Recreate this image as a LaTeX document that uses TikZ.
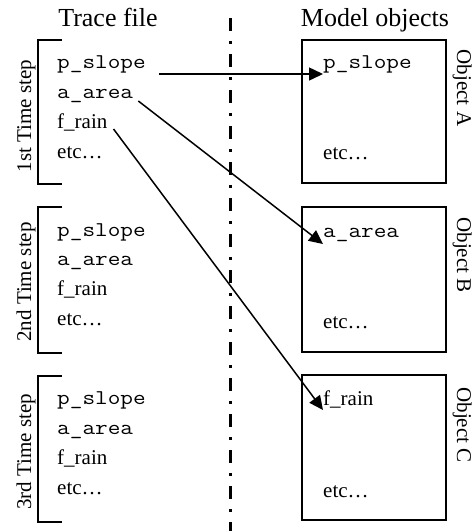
\documentclass[tikz,border=0pt]{standalone}
\usepackage{fontspec}
\setmainfont{Liberation Serif}
\setmonofont{Latin Modern Mono}[FakeStretch=1.17]
\usetikzlibrary{arrows.meta}
\begin{document}
\begin{tikzpicture}[x=1pt,y=-1pt,
  body/.style={font=\fontsize{21}{25}\selectfont, inner sep=0pt, anchor=base west},
  code/.style={font=\fontsize{21}{25}\selectfont\ttfamily, inner sep=0pt, anchor=base west},
  title/.style={font=\fontsize{26}{30}\selectfont, inner sep=0pt, anchor=base},
  sidelab/.style={font=\fontsize{21}{25}\selectfont, inner sep=0pt, anchor=base, rotate=90},
  objlab/.style={font=\fontsize{21}{25}\selectfont, inner sep=0pt, anchor=base, rotate=-90},
  objbox/.style={draw, line width=2pt, minimum width=144pt, minimum height=144pt, inner sep=0pt},
  bracket/.style={line width=2pt},
  divider/.style={line width=3pt, dash pattern=on 13pt off 10pt on 3pt off 10pt},
  arr/.style={line width=1.5pt, -{Triangle[length=14pt,width=13pt]}}
]
\useasboundingbox (0,0) rectangle (476,531);

% titles
\node[title] (ttrace) at (108,26) {Trace file};
\node[title] (tmodel) at (375,26) {Model objects};

% divider
\draw[divider] (230,18) -- (230,531);

% brackets
\draw[bracket] (62,40) -- (38,40) -- (38,184) -- (62,184);
\draw[bracket] (62,207) -- (38,207) -- (38,353) -- (62,353);
\draw[bracket] (62,376) -- (38,376) -- (38,522) -- (62,522);

% side labels
\node[sidelab] (s1) at (31,116) {1st Time step};
\node[sidelab] (s2) at (31,282) {2nd Time step};
\node[sidelab] (s3) at (31,452) {3rd Time step};

% trace step 1
\node[code] (t1p) at (57,68) {p\_slope};
\node[code] (t1a) at (57,98) {a\_area};
\node[body] (t1f) at (57,128) {f\_rain};
\node[body] (t1e) at (57,158) {etc…};
% trace step 2
\node[code] (t2p) at (57,236) {p\_slope};
\node[code] (t2a) at (57,265) {a\_area};
\node[body] (t2f) at (57,295) {f\_rain};
\node[body] (t2e) at (57,325) {etc…};
% trace step 3
\node[code] (t3p) at (57,404) {p\_slope};
\node[code] (t3a) at (57,434) {a\_area};
\node[body] (t3f) at (57,464) {f\_rain};
\node[body] (t3e) at (57,494) {etc…};

% object boxes
\node[objbox, minimum height=143pt] (boxA) at (374,111.5) {};
\node[objbox, minimum height=145pt] (boxB) at (374,279.5) {};
\node[objbox, minimum height=145pt] (boxC) at (374,447.5) {};

\node[objlab] (oA) at (457,88) {Object A};
\node[objlab] (oB) at (457,255) {Object B};
\node[objlab] (oC) at (457,425) {Object C};

\node[code] (ap) at (323,68) {p\_slope};
\node[body] (ae) at (323,159) {etc…};
\node[code] (ba) at (323,237) {a\_area};
\node[body] (be) at (323,328) {etc…};
\node[body] (cf) at (323,405) {f\_rain};
\node[body] (ce) at (323,497) {etc…};

% connectors
\draw[arr] ([xshift=13pt,yshift=-6pt]t1p.base east) -- ([yshift=-6pt]ap.base west);
\draw[arr] ([xshift=5pt,yshift=-3pt]t1a.base east) -- ([yshift=-7pt]ba.base west);
\draw[arr] ([xshift=6pt,yshift=-1pt]t1f.base east) -- ([yshift=-5pt]cf.base west);
\end{tikzpicture}
\end{document}
